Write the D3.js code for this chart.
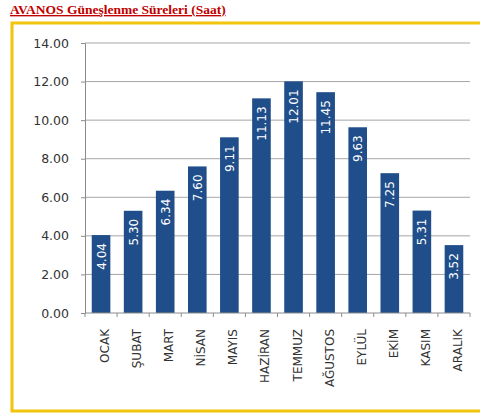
<!DOCTYPE html>
<html>
<head>
<meta charset="utf-8">
<script src="https://cdn.jsdelivr.net/npm/d3@7"></script>
<style>
  body { margin: 0; background: #fff; }
</style>
</head>
<body>
<div id="chart-area"></div>
<script>
// months and sunshine hours (Avanos)
var months = ["OCAK", "ŞUBAT", "MART", "NİSAN", "MAYIS", "HAZİRAN", "TEMMUZ", "AĞUSTOS", "EYLÜL", "EKİM", "KASIM", "ARALIK"];
var hours = [4.04, 5.30, 6.34, 7.60, 9.11, 11.13, 12.01, 11.45, 9.63, 7.25, 5.31, 3.52];
var yTicks = [0, 2, 4, 6, 8, 10, 12, 14];

var svg = d3.select("#chart-area")
    .append("svg")
        .attr("width", 480)
        .attr("height", 416);

// title
svg.append("text")
    .attr("x", 10)
    .attr("y", 14)
    .attr("font-family", "Liberation Serif")
    .attr("font-weight", "bold")
    .attr("font-size", 13.5)
    .attr("fill", "#c00000")
    .attr("text-decoration", "underline")
    .text("AVANOS Güneşlenme Süreleri (Saat)");

// yellow frame (right side runs off the picture)
svg.append("rect")
    .attr("x", 12)
    .attr("y", 23)
    .attr("width", 480)
    .attr("height", 388)
    .attr("fill", "none")
    .attr("stroke", "#f2c40c")
    .attr("stroke-width", 3);

var margin = {left: 85, top: 43, right: 10, bottom: 103};
var width = 470 - margin.left;
var height = 313 - margin.top;

var g = svg.append("g")
    .attr("transform", "translate(" + margin.left + "," + margin.top + ")");

var x = d3.scaleBand()
    .domain(months)
    .range([0, width])
    .paddingInner(0.42)
    .paddingOuter(0.21);

var y = d3.scaleLinear()
    .domain([0, 14])
    .range([height, 0]);

// gridlines
g.selectAll("line.grid")
        .data(yTicks.slice(1))
    .enter()
        .append("line")
        .attr("class", "grid")
        .attr("x1", 0)
        .attr("x2", width)
        .attr("y1", d => y(d))
        .attr("y2", d => y(d))
        .attr("stroke", "#a6a6a6")
        .attr("stroke-width", 1);

// y axis
var yAxis = d3.axisLeft(y)
    .tickValues(yTicks)
    .tickFormat(d3.format(".2f"))
    .tickSize(4)
    .tickPadding(12);

var yG = g.append("g").call(yAxis);
yG.select(".domain").attr("stroke", "#8c8c8c");
yG.selectAll(".tick line").attr("stroke", "#8c8c8c");
yG.selectAll("text")
    .attr("font-family", "DejaVu Sans")
    .attr("font-size", 12.5)
    .attr("fill", "#333");

// bars
g.selectAll("rect.bar")
        .data(hours)
    .enter()
        .append("rect")
        .attr("class", "bar")
        .attr("x", (d, i) => x(months[i]))
        .attr("y", d => y(d))
        .attr("width", x.bandwidth())
        .attr("height", d => height - y(d))
        .attr("fill", "#1f4e8a");

// value labels inside bars
g.selectAll("text.val")
        .data(hours)
    .enter()
        .append("text")
        .attr("class", "val")
        .attr("transform", (d, i) => "translate(" + (x(months[i]) + x.bandwidth() / 2 + 4.5) + "," + (y(d) + 8) + ") rotate(-90)")
        .attr("text-anchor", "end")
        .attr("font-family", "DejaVu Sans")
        .attr("font-size", 12)
        .attr("fill", "#fff")
        .text(d => d.toFixed(2));

// x axis with ticks between categories
var xG = g.append("g")
    .attr("transform", "translate(0," + height + ")");
xG.append("line")
    .attr("x1", 0).attr("x2", width)
    .attr("stroke", "#8c8c8c");
xG.selectAll("line.tk")
        .data(d3.range(months.length + 1))
    .enter()
        .append("line")
        .attr("class", "tk")
        .attr("x1", d => d * width / months.length)
        .attr("x2", d => d * width / months.length)
        .attr("y1", 0)
        .attr("y2", 4)
        .attr("stroke", "#8c8c8c");
xG.selectAll("text")
        .data(months)
    .enter()
        .append("text")
        .attr("transform", d => "translate(" + (x(d) + x.bandwidth() / 2 + 8) + ",16) rotate(-90)")
        .attr("text-anchor", "end")
        .attr("font-family", "DejaVu Sans")
        .attr("font-size", 12)
        .attr("fill", "#333")
        .text(d => d);
</script>
</body>
</html>
